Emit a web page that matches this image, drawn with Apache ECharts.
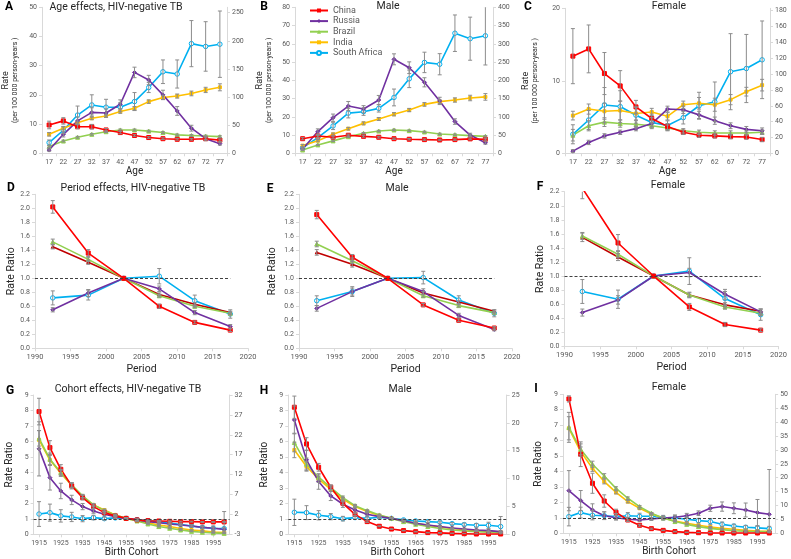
<!DOCTYPE html>
<html><head><meta charset="utf-8">
<script src="https://cdn.jsdelivr.net/npm/echarts@6/dist/echarts.min.js"></script>
<style>html,body{margin:0;padding:0;background:#fff}#c{width:791px;height:559px}</style>
</head><body><div id="c"></div>
<script>
const ages = ['17','22','27','32','37','42','47','52','57','62','67','72','77'];
const periods = [1992.5,1997.5,2002.5,2007.5,2012.5,2017.5];
const cohorts = ['1915','1920','1925','1930','1935','1940','1945','1950','1955','1960','1965','1970','1975','1980','1985','1990','1995','2000'];
const countries = ['China','Russia','Brazil','India','South Africa'];
const refRatio = 1;
const periodRefSpan = [1990, 2017.5];

// A: age effects (South Africa on right axis)
const A_China = [9.7,11.1,9.1,9.1,8.0,7.1,6.1,5.4,5.0,4.8,4.8,5.0,4.5];
const A_Russia = [1.1,6.5,11.1,14.0,13.8,16.8,27.7,25.1,20.0,14.5,8.6,5.0,3.3];
const A_Brazil = [2.3,4.2,5.5,6.5,7.4,8.0,8.0,7.6,7.1,6.3,6.1,5.9,5.7];
const A_India = [6.5,8.6,10.5,12.0,12.8,14.3,15.4,17.7,19.1,19.6,20.5,21.7,22.6];
const A_SouthAfrica = [19,41,68,86,82,82,92,117,145,141,195,190,194];
const A_ChinaErr = [1.3,1.1,0.7,0.8,0.5,0.4,0.3,0.3,0.3,0.3,0.3,0.3,0.4];
const A_RussiaErr = [0.4,0.9,1.3,1.6,1.4,1.5,1.8,1.6,1.6,1.5,1.0,0.7,0.5];
const A_BrazilErr = [0.3,0.3,0.3,0.3,0.3,0.3,0.3,0.3,0.3,0.3,0.3,0.3,0.3];
const A_IndiaErr = [0.6,0.6,0.5,0.5,0.5,0.6,0.6,0.6,0.7,0.7,0.8,0.9,1.2];
const A_SouthAfricaErr = [4.7,6,16,18,14,8,16,9,21,25,41,44,59];

// B: male age effects
const B_China = [8.0,9.5,8.8,9.9,9.3,8.8,8.0,7.7,7.5,7.3,7.5,7.9,7.7];
const B_Russia = [2.4,11.9,19.5,25.9,24.3,29.2,51.5,46.9,38.9,28.7,17.4,10.0,5.8];
const B_Brazil = [1.8,4.6,6.8,9.1,11.0,12.2,12.8,12.4,11.7,10.6,10.2,9.7,9.3];
const B_India = [4.2,6.9,10.4,13.5,16.4,18.8,21.4,23.7,26.8,28.3,29.2,30.3,30.9];
const B_SouthAfrica = [15,43,75,110,114,123,153,204,249,244,329,314,322];
const B_ChinaErr = [0.6,0.8,0.6,0.6,0.5,0.5,0.4,0.4,0.4,0.4,0.4,0.5,0.5];
const B_RussiaErr = [0.5,1.5,2.0,2.5,1.8,2.5,3.0,3.2,2.5,2.0,1.5,1.0,0.8];
const B_BrazilErr = [0.3,0.3,0.4,0.4,0.4,0.4,0.4,0.4,0.4,0.4,0.4,0.4,0.4];
const B_IndiaErr = [0.6,0.6,0.7,0.7,0.8,0.8,0.9,0.9,1.0,1.0,1.2,1.5,1.8];
const B_SouthAfricaErr = [3,6,10,13,10,10,23,24,28,29,50,59,80];

// C: female age effects
const C_China = [13.4,14.4,11.0,9.3,6.4,4.8,3.7,2.9,2.5,2.4,2.3,2.25,1.9];
const C_Russia = [0.3,1.5,2.4,2.9,3.4,4.1,6.1,6.0,5.3,4.5,3.8,3.3,3.1];
const C_Brazil = [2.5,3.8,4.3,4.1,4.0,3.8,3.5,3.1,2.9,2.8,2.8,2.8,2.9];
const C_India = [5.2,6.1,5.8,5.9,5.5,5.7,5.1,6.7,6.9,6.7,7.4,8.5,9.4];
const C_SouthAfrica = [24,42,61,59,48,39,35,45,60,65,103,107,118];
const C_ChinaErr = [3.8,3.3,2.9,2.1,0.9,0.6,0.4,0.3,0.3,0.3,0.3,0.3,0.3];
const C_RussiaErr = [0.2,0.3,0.3,0.3,0.3,0.4,0.4,0.5,0.5,0.5,0.4,0.4,0.4];
const C_BrazilErr = [0.8,0.7,0.6,0.5,0.5,0.4,0.4,0.3,0.3,0.3,0.3,0.3,0.3];
const C_IndiaErr = [0.6,0.7,1.1,1.3,0.9,0.5,0.5,0.5,0.8,0.9,0.7,0.6,0.8];
const C_SouthAfricaErr = [12,12,22,20,10,6,6,8,17,25,48,43,49];

// D: period effects
const D_China = [2.02,1.36,1.0,0.60,0.37,0.26];
const D_Russia = [0.55,0.79,1.0,0.85,0.51,0.31];
const D_Brazil = [1.52,1.27,1.0,0.75,0.60,0.50];
const D_India = [1.45,1.23,1.0,0.77,0.63,0.51];
const D_SouthAfrica = [0.72,0.76,1.0,1.03,0.68,0.49];
const D_ChinaErr = [0.09,0.05,0,0.03,0.02,0.02];
const D_RussiaErr = [0.03,0.05,0,0.04,0.03,0.03];
const D_BrazilErr = [0.04,0.03,0,0.02,0.02,0.02];
const D_IndiaErr = [0.03,0.03,0,0.02,0.02,0.02];
const D_SouthAfricaErr = [0.1,0.07,0,0.11,0.08,0.06];

// E: male period effects
const E_China = [1.91,1.30,1.0,0.62,0.40,0.29];
const E_Russia = [0.57,0.81,1.0,0.81,0.47,0.27];
const E_Brazil = [1.49,1.25,1.0,0.75,0.61,0.51];
const E_India = [1.37,1.20,1.0,0.79,0.66,0.53];
const E_SouthAfrica = [0.68,0.81,1.0,1.01,0.69,0.50];
const E_ChinaErr = [0.06,0.04,0,0.02,0.02,0.02];
const E_RussiaErr = [0.04,0.05,0,0.04,0.03,0.02];
const E_BrazilErr = [0.04,0.04,0,0.02,0.02,0.02];
const E_IndiaErr = [0.04,0.04,0,0.02,0.02,0.02];
const E_SouthAfricaErr = [0.07,0.07,0,0.09,0.06,0.05];

// F: female period effects
const F_China = [2.25,1.47,1.0,0.56,0.31,0.23];
const F_Russia = [0.48,0.66,1.0,1.05,0.74,0.49];
const F_Brazil = [1.57,1.31,1.0,0.73,0.56,0.47];
const F_India = [1.55,1.27,1.0,0.73,0.59,0.50];
const F_SouthAfrica = [0.78,0.67,1.0,1.07,0.68,0.45];
const F_ChinaErr = [0.15,0.12,0,0.05,0.03,0.02];
const F_RussiaErr = [0.05,0.06,0,0.06,0.07,0.04];
const F_BrazilErr = [0.05,0.05,0,0.04,0.03,0.03];
const F_IndiaErr = [0.06,0.05,0,0.03,0.03,0.03];
const F_SouthAfricaErr = [0.17,0.13,0,0.19,0.1,0.08];

// G: cohort effects
const G_China = [7.93,5.60,4.20,3.13,2.37,1.79,1.40,1.19,1.03,0.93,0.88,0.86,0.84,0.82,0.82,0.80,0.80,0.80];
const G_Russia = [5.52,3.66,2.80,2.22,1.79,1.51,1.29,1.14,1.03,0.93,0.82,0.75,0.67,0.60,0.54,0.45,0.39,0.32];
const G_Brazil = [6.2,4.85,3.99,3.19,2.48,1.90,1.53,1.25,1.03,0.86,0.67,0.50,0.39,0.28,0.19,0.13,0.09,0.06];
const G_India = [6.1,4.8,3.94,3.15,2.44,1.90,1.57,1.25,1.03,0.88,0.75,0.60,0.50,0.37,0.28,0.22,0.15,0.11];
const G_SouthAfrica = [1.31,1.40,1.19,1.12,1.01,1.08,1.01,1.06,1.03,0.95,0.88,0.82,0.73,0.63,0.54,0.45,0.39,0.37];
const G_ChinaErr = [0.86,0.45,0.3,0.2,0.15,0.1,0.07,0.05,0.03,0.03,0.03,0.03,0.03,0.03,0.03,0.03,0.03,0.03];
const G_RussiaErr = [1.75,0.8,0.5,0.3,0.2,0.15,0.1,0.07,0.05,0.05,0.05,0.05,0.05,0.05,0.05,0.05,0.06,0.1];
const G_BrazilErr = [0.5,0.4,0.2,0.15,0.1,0.08,0.06,0.05,0.03,0.03,0.03,0.03,0.03,0.02,0.02,0.02,0.02,0.02];
const G_IndiaErr = [0.6,0.3,0.2,0.15,0.1,0.08,0.06,0.05,0.03,0.03,0.03,0.03,0.03,0.02,0.02,0.02,0.02,0.02];
const G_SouthAfricaErr = [0.8,0.55,0.4,0.3,0.2,0.15,0.1,0.08,0.05,0.05,0.05,0.05,0.06,0.07,0.08,0.1,0.15,1.1];

// H: male cohort effects
const H_China = [8.21,5.84,4.33,3.04,2.00,1.29,0.82,0.52,0.34,0.24,0.17,0.11,0.09,0.06,0.04,0.02,0.02,0.02];
const H_Russia = [7.39,4.81,3.41,2.48,1.94,1.57,1.29,1.14,1.03,0.88,0.71,0.60,0.50,0.41,0.34,0.28,0.24,0.17];
const H_Brazil = [5.93,4.53,3.69,3.02,2.37,1.85,1.53,1.25,1.03,0.82,0.65,0.50,0.37,0.28,0.22,0.17,0.13,0.11];
const H_India = [5.45,4.38,3.56,2.91,2.28,1.79,1.47,1.21,1.03,0.86,0.71,0.58,0.47,0.37,0.30,0.24,0.19,0.15];
const H_SouthAfrica = [1.42,1.40,1.23,1.14,1.01,1.08,1.03,1.10,1.03,0.93,0.86,0.82,0.78,0.69,0.63,0.58,0.58,0.50];
const H_ChinaErr = [0.72,0.4,0.25,0.15,0.1,0.07,0.05,0.03,0.02,0.02,0.02,0.02,0.02,0.02,0.02,0.02,0.02,0.02];
const H_RussiaErr = [0.9,0.6,0.5,0.3,0.2,0.15,0.1,0.07,0.05,0.05,0.05,0.05,0.05,0.05,0.05,0.05,0.05,0.06];
const H_BrazilErr = [0.6,0.4,0.2,0.15,0.1,0.08,0.06,0.05,0.03,0.03,0.03,0.03,0.03,0.02,0.02,0.02,0.02,0.02];
const H_IndiaErr = [0.5,0.3,0.2,0.15,0.1,0.08,0.06,0.05,0.03,0.03,0.03,0.03,0.03,0.02,0.02,0.02,0.02,0.02];
const H_SouthAfricaErr = [0.85,0.45,0.3,0.2,0.15,0.1,0.08,0.06,0.05,0.05,0.05,0.06,0.07,0.08,0.1,0.12,0.2,0.65];

// I: female cohort effects
const I_China = [8.70,5.12,3.24,2.09,1.36,0.86,0.52,0.30,0.19,0.11,0.06,0.04,0.02,0.02,0.02,0.02,0.02,0.02];
const I_Russia = [2.76,2.12,1.51,1.14,1.01,0.91,0.86,0.93,0.99,1.04,1.14,1.30,1.62,1.73,1.62,1.51,1.34,1.23];
const I_Brazil = [6.86,5.44,4.47,3.71,2.91,2.27,1.73,1.30,0.99,0.76,0.58,0.43,0.32,0.24,0.17,0.13,0.11,0.09];
const I_India = [6.80,5.29,4.21,3.35,2.65,2.05,1.62,1.25,0.99,0.80,0.65,0.52,0.41,0.32,0.26,0.19,0.15,0.13];
const I_SouthAfrica = [1.08,1.34,1.17,1.14,1.08,1.14,1.10,1.10,1.01,0.99,0.91,0.82,0.76,0.58,0.47,0.39,0.35,0.30];
const I_ChinaErr = [0.2,0.8,0.65,0.4,0.2,0.1,0.06,0.04,0.02,0.02,0.02,0.02,0.02,0.02,0.02,0.02,0.02,0.02];
const I_RussiaErr = [1.3,0.65,0.4,0.25,0.15,0.12,0.1,0.1,0.1,0.15,0.15,0.15,0.2,0.3,0.35,0.45,0.85,2.9];
const I_BrazilErr = [0.97,0.35,0.2,0.15,0.1,0.08,0.06,0.05,0.03,0.03,0.03,0.03,0.03,0.02,0.02,0.02,0.02,0.02];
const I_IndiaErr = [0.75,0.3,0.2,0.15,0.1,0.08,0.06,0.05,0.03,0.03,0.03,0.03,0.03,0.02,0.02,0.02,0.02,0.02];
const I_SouthAfricaErr = [0.6,0.35,0.3,0.25,0.2,0.2,0.2,0.2,0.15,0.15,0.15,0.15,0.2,0.15,0.12,0.12,0.12,0.15];

// ---------- styling / layout ----------
const FONT = 'Roboto, "Liberation Sans", Arial, sans-serif';
const AX = '#D9D9D9', LBL = '#595959', ERR = '#8C8C8C';
const STY = {
  'China': {color:'#FF0000', symbol:'rect', size:4},
  'Russia': {color:'#7030A0', symbol:'diamond', size:4},
  'Brazil': {color:'#92D050', symbol:'triangle', size:4},
  'India': {color:'#FFC000', symbol:'rect', size:3},
  'South Africa': {color:'#00B0F0', symbol:'circle', size:4.5, hollow:true}
};
const INDIA_PERIOD = '#C00000';

function sets(prefix, right){
  const src = {A:[A_China,A_Russia,A_Brazil,A_India,A_SouthAfrica,A_ChinaErr,A_RussiaErr,A_BrazilErr,A_IndiaErr,A_SouthAfricaErr],
    B:[B_China,B_Russia,B_Brazil,B_India,B_SouthAfrica,B_ChinaErr,B_RussiaErr,B_BrazilErr,B_IndiaErr,B_SouthAfricaErr],
    C:[C_China,C_Russia,C_Brazil,C_India,C_SouthAfrica,C_ChinaErr,C_RussiaErr,C_BrazilErr,C_IndiaErr,C_SouthAfricaErr],
    D:[D_China,D_Russia,D_Brazil,D_India,D_SouthAfrica,D_ChinaErr,D_RussiaErr,D_BrazilErr,D_IndiaErr,D_SouthAfricaErr],
    E:[E_China,E_Russia,E_Brazil,E_India,E_SouthAfrica,E_ChinaErr,E_RussiaErr,E_BrazilErr,E_IndiaErr,E_SouthAfricaErr],
    F:[F_China,F_Russia,F_Brazil,F_India,F_SouthAfrica,F_ChinaErr,F_RussiaErr,F_BrazilErr,F_IndiaErr,F_SouthAfricaErr],
    G:[G_China,G_Russia,G_Brazil,G_India,G_SouthAfrica,G_ChinaErr,G_RussiaErr,G_BrazilErr,G_IndiaErr,G_SouthAfricaErr],
    H:[H_China,H_Russia,H_Brazil,H_India,H_SouthAfrica,H_ChinaErr,H_RussiaErr,H_BrazilErr,H_IndiaErr,H_SouthAfricaErr],
    I:[I_China,I_Russia,I_Brazil,I_India,I_SouthAfrica,I_ChinaErr,I_RussiaErr,I_BrazilErr,I_IndiaErr,I_SouthAfricaErr]}[prefix];
  return countries.map((c,k)=>({name:c, vals:src[k], err:src[k+5], axis:(right && c==='South Africa')?1:0}));
}

const rateName = '{a|Rate}\n{b|(per 100 000 person-years )}';
const panels = [
  {id:'A', kind:'age', title:'Age effects, HIV-negative TB', tpos:[116,7.5], lpos:[9,7], grid:{left:42,top:7.3,width:185,height:146}, y:[0,50,10], y2:[0,259.6,50], yname:rateName, ngap:22},
  {id:'B', kind:'age', title:'Male', tpos:[388,6], lpos:[264,7], grid:{left:295,top:7.3,width:198,height:146}, y:[0,80,10], y2:[0,400,50], yname:rateName, ngap:21},
  {id:'C', kind:'age', title:'Female', tpos:[669,6], lpos:[528,7], grid:{left:565,top:8.3,width:205,height:145}, y:[0,20,10], y2:[0,183,20], yname:rateName, ngap:25},
  {id:'D', kind:'period', title:'Period effects, HIV-negative TB', tpos:[133,188], lpos:[11,188], grid:{left:35,top:194.3,width:213,height:154}, y:[0,2.2,0.2], yname:'Rate Ratio', ngap:17},
  {id:'E', kind:'period', title:'Male', tpos:[397,188], lpos:[270,189], grid:{left:299,top:194.3,width:213,height:154}, y:[0,2.2,0.2], yname:'Rate Ratio', ngap:21},
  {id:'F', kind:'period', title:'Female', tpos:[668,185], lpos:[540,187], grid:{left:564.5,top:191.7,width:214,height:154.6}, y:[0,2.2,0.2], yname:'Rate Ratio', ngap:19},
  {id:'G', kind:'cohort', title:'Cohort effects, HIV-negative TB', tpos:[128,389], lpos:[10,391], grid:{left:33.6,top:395,width:196,height:139.3}, y:[0,9,1], y2:[-3,32,5], yname:'Rate Ratio', ngap:19},
  {id:'H', kind:'cohort', title:'Male', tpos:[400,389], lpos:[264,391], grid:{left:288.3,top:395,width:218.4,height:139.3}, y:[0,9,1], y2:[0,25,5], yname:'Rate Ratio', ngap:19},
  {id:'I', kind:'cohort', title:'Female', tpos:[669,387], lpos:[536,389], grid:{left:563,top:394.3,width:214.6,height:139}, y:[0,9,1], y2:[0,50,5], yname:'Rate Ratio', ngap:20}
];

const grid=[], xAxis=[], yAxis=[], series=[], graphic=[];
const axisLineStyle = {show:true, lineStyle:{color:AX, width:1}};
const tickStyle = {show:true, length:3, lineStyle:{color:AX}};
const lblStyle = {color:LBL, fontSize:7, fontFamily:FONT};

panels.forEach((p,i)=>{
  grid.push(p.grid);
  const isPeriod = p.kind==='period';
  const xName = p.kind==='age'?'Age':(isPeriod?'Period':'Birth Cohort');
  const xGap = p.kind==='age'?12:(isPeriod?16:13);
  if (isPeriod) {
    xAxis.push({type:'value', gridIndex:i, min:1990, max:2020, interval:5, axisLine:axisLineStyle, axisTick:tickStyle, splitLine:{show:false},
      axisLabel:Object.assign({margin:5, formatter:v=>String(v)}, lblStyle, {fontSize:7.5}),
      name:xName, nameLocation:'middle', nameGap:xGap, nameTextStyle:{fontSize:10.5, color:'#262626', fontFamily:FONT}});
  } else {
    xAxis.push({type:'category', gridIndex:i, data:p.kind==='age'?ages:cohorts, boundaryGap:true, axisLine:axisLineStyle,
      axisTick:{show:true, length:3, lineStyle:{color:AX}, interval: p.kind==='cohort'?1:0, alignWithLabel:p.kind==='cohort'},
      axisLabel:Object.assign({margin:5, interval:p.kind==='cohort'?1:0}, lblStyle),
      name:xName, nameLocation:'middle', nameGap:xGap, nameTextStyle:{fontSize:10, color:'#262626', fontFamily:FONT}});
  }
  const y0 = yAxis.length;
  const isRate = p.kind==='age';
  yAxis.push({type:'value', gridIndex:i, position:'left', min:p.y[0], max:p.y[1], interval:p.y[2],
    axisLine:axisLineStyle, axisTick:tickStyle, splitLine:{show:false},
    axisLabel:Object.assign({margin:5, formatter: isPeriod ? (v=>v.toFixed(1)) : (v=>String(v))}, lblStyle),
    name:p.yname, nameLocation:'middle', nameRotate:90, nameGap:p.ngap,
    nameTextStyle: isRate ? {fontFamily:FONT, color:'#262626', rich:{a:{fontSize:9, lineHeight:10, fontFamily:FONT, color:'#262626'}, b:{fontSize:7, lineHeight:9, fontFamily:FONT, color:'#262626'}}}
                          : {fontSize: isPeriod?10.5:10, color:'#262626', fontFamily:FONT}});
  if (p.y2) {
    const span = p.y2[1]-p.y2[0];
    yAxis.push({type:'value', gridIndex:i, position:'right', min:p.y2[0], max:p.y2[1], interval:p.y2[2],
      axisLine:axisLineStyle, axisTick:tickStyle, splitLine:{show:false},
      axisLabel:Object.assign({margin:5, showMaxLabel: Math.abs(span/p.y2[2]-Math.round(span/p.y2[2]))<1e-9}, lblStyle)});
  }
  const data = sets(p.id, isRate);
  const xs = isPeriod ? periods : null;
  const order = [4,3,2,1,0];
  const errLeft = [], errRight = [];
  order.forEach(k=>{
    const s = data[k];
    const st = STY[s.name];
    const col = (isPeriod && s.name==='India') ? INDIA_PERIOD : st.color;
    const sym = (isPeriod && s.name==='India') ? 'triangle' : st.symbol;
    const ser = {type:'line', name:s.name, xAxisIndex:i, yAxisIndex:y0+s.axis,
      data: s.vals.map((v,j)=> isPeriod ? [xs[j], v] : v),
      symbol:sym, symbolSize:st.size, showSymbol:true,
      lineStyle:{color:col, width:1.6},
      itemStyle: st.hollow ? {color:'#FFFFFF', borderColor:col, borderWidth:1} : {color:col, borderColor:col},
      emphasis:{disabled:true}, silent:true, animation:false, z:2, clip:true};
    if (k===4 && (p.kind!=='age')) {
      ser.markLine = {silent:true, symbol:'none', animation:false, label:{show:false},
        lineStyle:{type:[3,2], color:'#404040', width:1},
        data: isPeriod ? [[{coord:[periodRefSpan[0], refRatio]},{coord:[periodRefSpan[1], refRatio]}]] : [{yAxis:refRatio}]};
    }
    series.push(ser);
    const tgt = s.axis ? errRight : errLeft;
    s.vals.forEach((v,j)=>{ if (s.err[j]>0) tgt.push([isPeriod?xs[j]:j, v-s.err[j], v+s.err[j]]); });
  });
  [[errLeft,0],[errRight,1]].forEach(([arr,ax])=>{
    if (!arr.length) return;
    series.push({type:'custom', xAxisIndex:i, yAxisIndex:y0+ax, data:arr, clip:true, silent:true, animation:false, z:3,
      encode:{x:0, y:[1,2]},
      renderItem:(params, api)=>{
        const x = api.value(0), lo = api.value(1), hi = api.value(2);
        const a = api.coord([x, lo]), b = api.coord([x, hi]);
        const w = 2, st = {stroke:ERR, lineWidth:1};
        return {type:'group', children:[
          {type:'line', shape:{x1:a[0],y1:a[1],x2:b[0],y2:b[1]}, style:st},
          {type:'line', shape:{x1:a[0]-w,y1:a[1],x2:a[0]+w,y2:a[1]}, style:st},
          {type:'line', shape:{x1:b[0]-w,y1:b[1],x2:b[0]+w,y2:b[1]}, style:st}
        ]};
      }});
  });
  graphic.push({type:'text', x:p.tpos[0], y:p.tpos[1], silent:true,
    style:{text:p.title, fill:'#262626', font:'10.5px '+FONT, align:'center', verticalAlign:'middle'}});
  graphic.push({type:'text', x:p.lpos[0], y:p.lpos[1], silent:true,
    style:{text:p.id, fill:'#000', font:'bold 12px '+FONT, align:'center', verticalAlign:'middle'}});
});

const chart = echarts.init(document.getElementById('c'), null, {renderer:'canvas'});
chart.setOption({
  animation:false,
  textStyle:{fontFamily:FONT},
  grid, xAxis, yAxis, series, graphic,
  legend:{data:countries, orient:'vertical', left:304, top:1, itemWidth:18, itemHeight:5, itemGap:1.6,
    textStyle:{fontSize:9, color:LBL, fontFamily:FONT}, selectedMode:false}
});
</script></body></html>
